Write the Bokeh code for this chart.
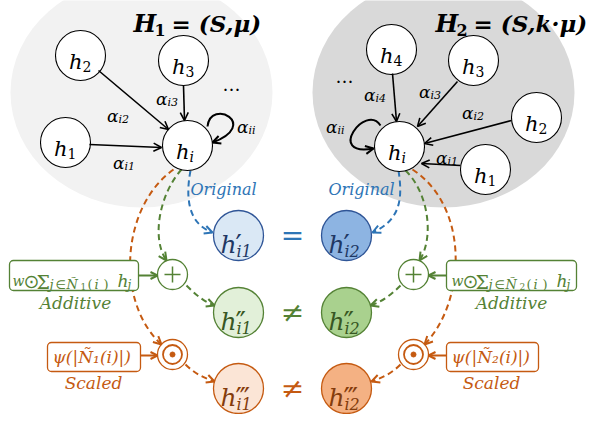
import numpy as np
from bokeh.plotting import figure
from bokeh.models import Range1d, Arrow, OpenHead, ColumnDataSource
from bokeh.core.properties import value
from bokeh.embed import file_html
from bokeh.resources import INLINE

MATH = "DejaVu Serif"

# ---------------- data ----------------
# the two neighbourhoods
hood_x = [141, 443]
hood_y = [100, 100]
hood_w = [262, 262]
hood_h = [230, 230]
hood_fill = ["#f2f2f2", "#d9d9d9"]
title_main = ["= (S,μ)", "= (S,k·μ)"]
title_sub = ["1", "2"]

# graph 1 nodes (sub index, centre)
g1_sub = ["1", "2", "3", "i"]
g1_x = [65, 80, 183, 187]
g1_y = [150, 63, 68, 153]
# graph 2 nodes
g2_sub = ["1", "2", "3", "4", "i"]
g2_x = [485, 536, 473, 391, 399]
g2_y = [177, 125, 68, 57, 154]

# edges into h_i
e_x0 = [89, 98, 183, 460, 511, 457, 392]
e_y0 = [152, 78, 93, 173, 128, 89, 81]
e_x1 = [161, 168, 184, 421, 424, 417, 396]
e_y1 = [155, 137, 128, 171, 151, 134, 129]

# self loops (cubic bezier)
lp_x0 = [207, 380]; lp_y0 = [134, 133]
lp_cx0 = [210, 365]; lp_cy0 = [105, 110]
lp_cx1 = [260, 325]; lp_cy1 = [132, 165]
lp_x1 = [212, 373]; lp_y1 = [150, 156]

# attention labels
a_sub = ["i1", "i2", "i3", "ii", "i1", "i2", "i3", "i4", "ii"]
a_x = [124, 118, 167, 248, 447, 473, 430, 375, 337]
a_y = [170, 123, 106, 134, 165, 120, 99, 102, 134]
dots_x = [231, 344]
dots_y = [92, 84]

# output nodes
out_x = [238, 346]
out_y = [243, 320, 396]
out_primes = ["′", "″", "‴"]
out_fill_left = ["#dae8f5", "#e2f0d9", "#fbe5d6"]
out_fill_right = ["#8db4e2", "#a9d18e", "#f4b183"]
out_line = ["#2f5597", "#548235", "#c55a11"]
out_text = ["#1f3864", "#385723", "#843c0c"]
branch_color = ["#2e75b6", "#548235", "#c55a11"]
relation = ["=", "≠", "≠"]

# operators (+ and ⊙)
op_x = [172, 413]
op_y = [282, 362]

# dashed flows (P0, C1, C2, P3, colour index)
cv_x0 = [190, 181, 173, 186, 185, 398, 405, 412, 400, 400]
cv_y0 = [178, 177, 177, 293, 372, 178, 178, 177, 293, 372]
cv_cx0 = [184, 160, 120, 195, 194, 403, 428, 470, 391, 391]
cv_cy0 = [210, 200, 215, 302, 381, 210, 200, 215, 302, 381]
cv_cx1 = [190, 150, 115, 203, 203, 398, 434, 465, 382, 382]
cv_cy1 = [232, 245, 310, 309, 385, 228, 245, 310, 309, 385]
cv_x1 = [212, 166, 161, 214, 214, 372, 419, 424, 370, 371]
cv_y1 = [240, 268, 352, 313, 389, 240, 268, 352, 313, 389]
cv_col = [0, 1, 2, 1, 2, 0, 1, 2, 1, 2]

# term boxes
bx_l = [9, 446, 47, 446]
bx_r = [138, 576, 140, 538]
bx_t = [268, 268, 350, 350]
bx_b = [298, 298, 379, 379]
bx_col = [1, 1, 2, 2]
cn_x0 = [138, 446, 140, 446]
cn_x1 = [157, 428, 157, 428]
cn_y = [283, 283, 363, 363]
cap_text = ["Additive", "Additive", "Scaled", "Scaled"]
cap_x = [75, 511, 93, 491]
cap_y = [310, 310, 390, 390]
orig_x = [223, 361]
orig_y = [197, 197]

# pieces of the additive term: (dx, text, size, dy, style, font)
add_pieces = [(0, "w", 14, 0, "italic", MATH), (11, "⊙", 19, 0, "normal", "DejaVu Sans"),
              (24, "Σ", 19, 1, "normal", MATH), (37, "j", 13, 4, "italic", MATH),
              (43, "∈", 12, 4, "normal", "DejaVu Sans"), (54, "Ñ", 13, 4, "italic", MATH),
              (68, "{n}", 9, 6, "normal", MATH), (75, "(", 13, 4, "normal", MATH),
              (82, "i", 13, 4, "italic", MATH), (91, ")", 13, 4, "normal", MATH),
              (105, "h", 17, 0, "italic", MATH), (115, "j", 12, 4, "italic", MATH)]

# ---------------- figure ----------------
p = figure(width=598, height=414, x_range=Range1d(0, 598), y_range=Range1d(422, 8),
           output_backend="svg", toolbar_location=None, min_border=0,
           x_axis_location=None, y_axis_location=None)
p.grid.visible = False
p.outline_line_color = None
p.background_fill_color = "white"
p.border_fill_color = "white"


def txt(x, y, s, size, color="black", style="italic", align="left",
        baseline="alphabetic", font=MATH):
    p.text(x=[x], y=[y], text=[s], text_font=value(font),
           text_font_size=f"{size}px", text_font_style=style, text_color=color,
           text_align=align, text_baseline=baseline)


def arrow(x0, y0, x1, y1, color, lw=1.5, size=8):
    src = ColumnDataSource(dict(x0=list(x0), y0=list(y0), x1=list(x1), y1=list(y1)))
    p.add_layout(Arrow(x_start="x0", y_start="y0", x_end="x1", y_end="y1", source=src,
                       line_color=color, line_width=lw,
                       end=OpenHead(size=size, line_color=color, line_width=lw)))


# backgrounds
p.ellipse(x=hood_x, y=hood_y, width=hood_w, height=hood_h, fill_color=hood_fill,
          line_color=None)

# dashed flows
cols = [branch_color[c] for c in cv_col]
p.bezier(x0=cv_x0, y0=cv_y0, x1=cv_x1, y1=cv_y1, cx0=cv_cx0, cy0=cv_cy0,
         cx1=cv_cx1, cy1=cv_cy1, line_color=cols, line_width=2, line_dash="6 4")
for k in range(3):
    idx = [i for i, c in enumerate(cv_col) if c == k]
    ax0, ay0, ax1, ay1 = [], [], [], []
    for i in idx:
        d = np.array([cv_x1[i] - cv_cx1[i], cv_y1[i] - cv_cy1[i]], float)
        d /= np.hypot(*d)
        ax0.append(cv_x1[i] - 3 * d[0]); ay0.append(cv_y1[i] - 3 * d[1])
        ax1.append(cv_x1[i]); ay1.append(cv_y1[i])
    arrow(ax0, ay0, ax1, ay1, branch_color[k], lw=2, size=8)

# self loops
p.bezier(x0=lp_x0, y0=lp_y0, x1=lp_x1, y1=lp_y1, cx0=lp_cx0, cy0=lp_cy0,
         cx1=lp_cx1, cy1=lp_cy1, line_color="black", line_width=2)
lx0, ly0 = [], []
for i in range(2):
    d = np.array([lp_x1[i] - lp_cx1[i], lp_y1[i] - lp_cy1[i]], float)
    d /= np.hypot(*d)
    lx0.append(lp_x1[i] - 3 * d[0]); ly0.append(lp_y1[i] - 3 * d[1])
arrow(lx0, ly0, lp_x1, lp_y1, "black", lw=2, size=8)

# edges
arrow(e_x0, e_y0, e_x1, e_y1, "black", lw=1.6, size=8)

# boxes
p.quad(left=bx_l, right=bx_r, top=bx_t, bottom=bx_b, fill_color="white",
       line_color=[branch_color[c] for c in bx_col], line_width=1.3, border_radius=4)
for i in range(4):
    c = branch_color[bx_col[i]]
    arrow([cn_x0[i]], [cn_y[i]], [cn_x1[i]], [cn_y[i]], c, lw=2, size=7)

# graph nodes
p.circle(x=g1_x + g2_x, y=g1_y + g2_y, radius=25, fill_color="white",
         line_color="black", line_width=1.1)
for xs, ys, subs in ((g1_x, g1_y, g1_sub), (g2_x, g2_y, g2_sub)):
    for x, y, s in zip(xs, ys, subs):
        txt(x + 2, y + 6, "h", 21, align="right")
        txt(x + 2, y + 11, s, 14, style="italic" if s.isalpha() else "normal")

# attention labels
for x, y, s in zip(a_x, a_y, a_sub):
    txt(x, y, "α", 17, align="right")
    txt(x, y + 4, s, 11)
for x, y in zip(dots_x, dots_y):
    txt(x, y, "…", 18, style="normal", align="center", baseline="middle")

# titles
for k, x0 in enumerate([133, 435]):
    txt(x0, 31, "H", 24, style="bold italic")
    txt(x0 + 21, 37, title_sub[k], 16, style="bold")
    txt(x0 + 38, 31, title_main[k], 23, style="bold italic")

# output nodes
for r in range(3):
    p.circle(x=out_x, y=[out_y[r]] * 2, radius=25,
             fill_color=[out_fill_left[r], out_fill_right[r]],
             line_color=out_line[r], line_width=1.3)
    for j, x in enumerate(out_x):
        y = out_y[r]
        txt(x - 2, y + 9, "h", 25, color=out_text[r], align="right")
        txt(x - 3, y + 10, out_primes[r], 28, color=out_text[r], style="normal")
        txt(x - 2, y + 16, "i" + str(j + 1), 16, color=out_text[r])
    txt((out_x[0] + out_x[1]) / 2, out_y[r], relation[r], 28, color=branch_color[r],
        style="normal", align="center", baseline="middle")

# operators
green, orange = branch_color[1], branch_color[2]
p.circle(x=op_x, y=[op_y[0]] * 2, radius=15, fill_color="white", line_color=green,
         line_width=1.3)
for x in op_x:
    y = op_y[0]
    p.segment(x0=[x - 8, x], y0=[y, y - 8], x1=[x + 8, x], y1=[y, y + 8],
              line_color=green, line_width=1.5)
p.circle(x=op_x, y=[op_y[1]] * 2, radius=15, fill_color="white", line_color=orange,
         line_width=1.3)
p.circle(x=op_x, y=[op_y[1]] * 2, radius=9.5, fill_color="white", line_color=orange,
         line_width=1.8)
p.circle(x=op_x, y=[op_y[1]] * 2, radius=2.5, fill_color=orange, line_color=orange)

# box formulas
for k, x0 in enumerate([12, 451]):
    n = "1" if k == 0 else "2"
    for dx, s, size, dy, style, font in add_pieces:
        txt(x0 + dx, 288 + dy, s.replace("{n}", n), size, color=green, style=style,
            font=font)
for k, x0 in enumerate([52, 451]):
    n = "₁" if k == 0 else "₂"
    txt(x0, 364, "ψ(|Ñ" + n + "(i)|)", 17, color=orange, baseline="middle")

# captions
for s, x, y, k in zip(cap_text, cap_x, cap_y, bx_col):
    txt(x, y, s, 17, color=branch_color[k], align="center", baseline="middle")
for x, y in zip(orig_x, orig_y):
    txt(x, y, "Original", 16, color=branch_color[0], align="center", baseline="middle")

open("out.html", "w").write(file_html(p, INLINE))
